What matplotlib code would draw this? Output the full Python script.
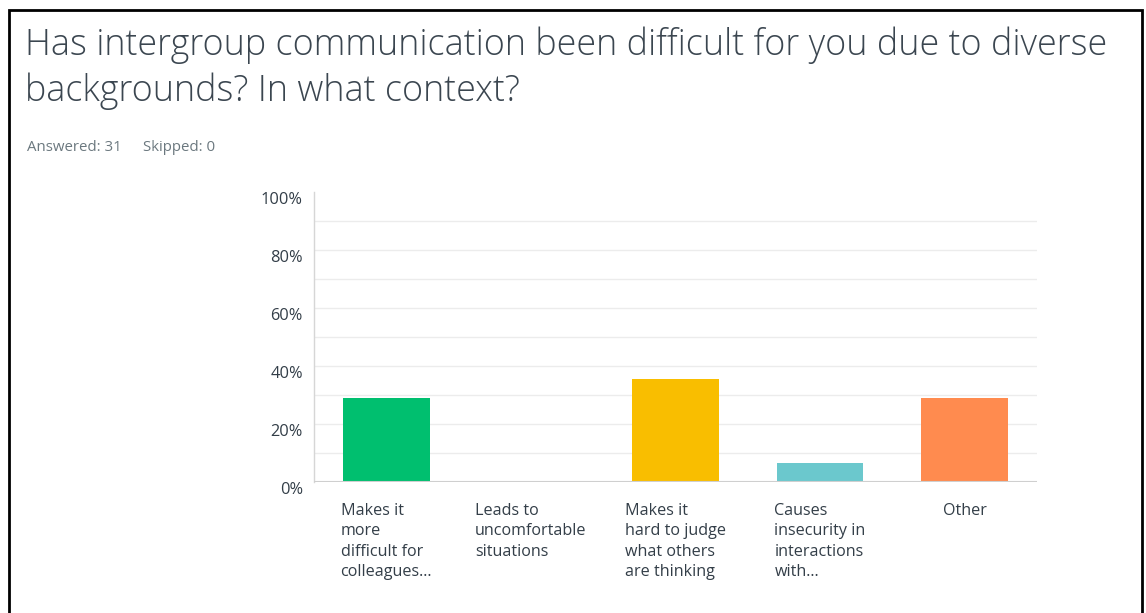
#!/usr/bin/env python3

##import matplotlib for plotting
import matplotlib as mpl
mpl.use('Agg')
import matplotlib.pyplot as plt
from matplotlib.lines import Line2D
from matplotlib.transforms import ScaledTranslation
import numpy as np

##Survey question and response counts
title_lines=['Has intergroup communication been difficult for you due to diverse',
             'backgrounds? In what context?']
answered=31
skipped=0
categories=['Makes it\nmore\ndifficult for\ncolleagues...',
            'Leads to\nuncomfortable\nsituations',
            'Makes it\nhard to judge\nwhat others\nare thinking',
            'Causes\ninsecurity in\ninteractions\nwith...',
            'Other']
percents=[29.03,0.0,35.48,6.45,29.03]
colours=['#00bf6f','#507cb6','#f9be00','#6bc8cd','#ff8b4f']
yticks=[0,20,40,60,80,100]

##Text colours
dark='#333e48'
grey='#6b787f'

plt.rcParams['font.family']=['Open Sans','DejaVu Sans']

W,H=1146,613
fig=plt.figure(figsize=(W/100,H/100),dpi=100)
fig.patch.set_facecolor('white')

##Frame around the page (no bottom edge)
fx=lambda px: px/W
fy=lambda py: 1-py/H
fig.add_artist(Line2D([fx(9),fx(9),fx(1142),fx(1142)],[fy(613),fy(10),fy(10),fy(613)],
                      color='black',lw=2,transform=fig.transFigure,solid_joinstyle='miter'))

##Title and response summary
fig.text(fx(25),fy(55),title_lines[0],fontsize=25.8,color='#3b4650',va='baseline',ha='left',fontweight='light')
fig.text(fx(25),fy(101),title_lines[1],fontsize=25.8,color='#3b4650',va='baseline',ha='left',fontweight='light')
fig.text(fx(27),fy(151),'Answered: %d' %answered,fontsize=10.8,color=grey,va='baseline')
fig.text(fx(143),fy(151),'Skipped: %d' %skipped,fontsize=10.8,color=grey,va='baseline')

##Chart area
ax=fig.add_axes([fx(314),fy(482),fx(1037)-fx(314),fy(192)-fy(482)])
x=np.arange(len(categories))
ax.bar(x,percents,width=0.6,color=colours,zorder=3)
ax.set_xlim(-0.5,len(categories)-0.5)
ax.set_ylim(0,100)

##Light gridlines every 10%
for g in range(10,100,10):
    ax.axhline(g,color='#ececec',lw=1,zorder=1)
ax.axhline(0,color='#cfcfcf',lw=1.5,zorder=4)

for s in ['top','right','bottom']:
    ax.spines[s].set_visible(False)
ax.spines['left'].set_color('#d6d6d6')
ax.spines['left'].set_linewidth(1)

ax.set_yticks(yticks)
ax.set_yticklabels(['%d%%' %t for t in yticks],fontsize=11.8,color=dark)
ax.tick_params(axis='y',length=0,pad=8)
off=ScaledTranslation(0,-6/100,fig.dpi_scale_trans)
for lab in ax.get_yticklabels():
    lab.set_transform(lab.get_transform()+off)

ax.set_xticks(x)
ax.set_xticklabels([])
ax.tick_params(axis='x',length=0)
for i,c in enumerate(categories):
    ax.text(i,-7.3,c,ha='center',va='top',multialignment='left',
            fontsize=11.6,color=dark,linespacing=1.36,transform=ax.transData)

plt.savefig('out.png',dpi=100,facecolor='white')
plt.close()
